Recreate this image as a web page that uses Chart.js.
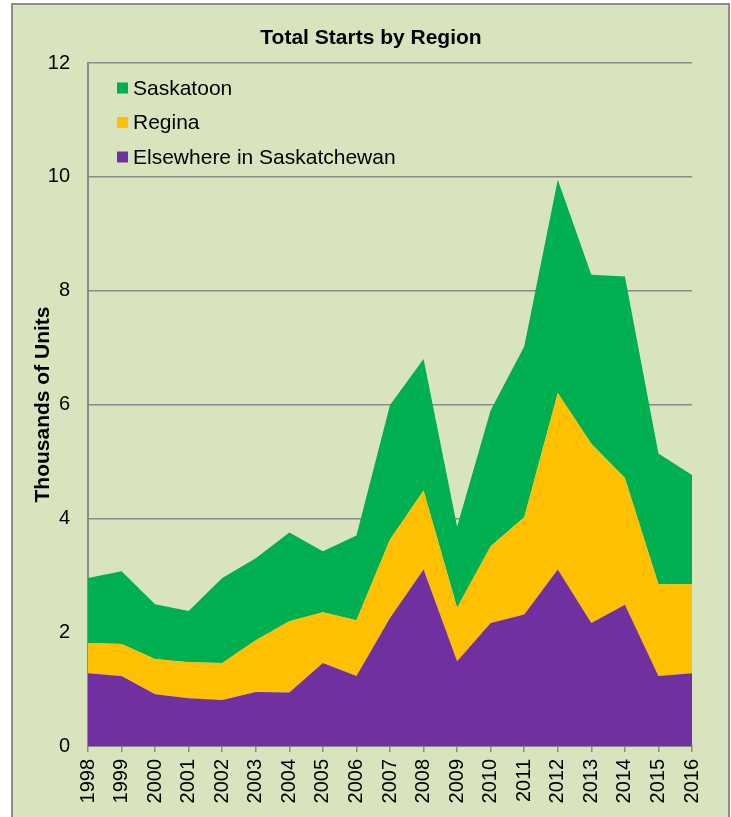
<!DOCTYPE html>
<html>
<head>
<meta charset="utf-8">
<script src="https://cdn.jsdelivr.net/npm/chart.js@4.4.1/dist/chart.umd.min.js"></script>
<style>
  body { margin: 0; background: #ffffff; overflow: hidden; }
  #box { position: absolute; left: 11px; top: 3px; width: 715px; height: 900px;
         border: 2px solid #8c8c8c; background: #d8e4bd; }
  #mycanvas { position: absolute; left: 0; top: 0; }
</style>
</head>
<body>
<div id="box"></div>
<canvas id="mycanvas" width="731" height="817"></canvas>
<script>
// values in thousands of units
var years = ['1998','1999','2000','2001','2002','2003','2004','2005','2006','2007',
             '2008','2009','2010','2011','2012','2013','2014','2015','2016'];
var elsewhere = [1.28,1.23,0.91,0.84,0.81,0.95,0.94,1.46,1.23,2.25,3.10,1.49,2.16,2.31,3.10,2.16,2.48,1.23,1.28];
var regina    = [0.53,0.56,0.62,0.63,0.65,0.91,1.25,0.89,0.98,1.38,1.39,0.94,1.35,1.71,3.10,3.15,2.23,1.61,1.56];
var saskatoon = [1.14,1.28,0.96,0.90,1.49,1.44,1.56,1.07,1.49,2.36,2.31,1.42,2.39,3.00,3.75,2.97,3.54,2.30,1.92];
var yTicks = [0,2,4,6,8,10,12];

var FONT = "'Liberation Sans', Arial, sans-serif";
var GRID = '#8a8a8a';

// title and legend drawn by hand: title centred on the whole box, legend inside the plot
var decorations = {
	id: 'decorations',
	afterDraw: function(chart) {
		var ctx = chart.ctx;
		var area = chart.chartArea;
		var items = [
			{ text: 'Saskatoon', color: '#00b050' },
			{ text: 'Regina', color: '#ffc000' },
			{ text: 'Elsewhere in Saskatchewan', color: '#7030a0' }
		];
		ctx.save();
		ctx.fillStyle = '#000';
		ctx.textAlign = 'center';
		ctx.textBaseline = 'middle';
		ctx.font = 'bold 21px ' + FONT;
		ctx.fillText('Total Starts by Region', 371, 38);

		ctx.textAlign = 'left';
		ctx.font = '21px ' + FONT;
		for (var i = 0; i < items.length; i++) {
			var y = area.top + 25 + i * 34.5;
			ctx.fillStyle = items[i].color;
			ctx.fillRect(area.left + 29, y - 5.5, 11, 11);
			ctx.fillStyle = '#000';
			ctx.fillText(items[i].text, area.left + 45, y + 1);
		}
		ctx.restore();
	}
};

var ctx = document.getElementById('mycanvas');

var chart = new Chart(ctx, {
	type: 'line',
	data: {
		labels: years,
		datasets: [
			{
				label: 'Elsewhere in Saskatchewan',
				data: elsewhere,
				backgroundColor: '#7030a0',
				borderWidth: 0,
				fill: 'origin'
			},
			{
				label: 'Regina',
				data: regina,
				backgroundColor: '#ffc000',
				borderWidth: 0,
				fill: '-1'
			},
			{
				label: 'Saskatoon',
				data: saskatoon,
				backgroundColor: '#00b050',
				borderWidth: 0,
				fill: '-1'
			}
		]
	},
	options: {
		responsive: false,
		animation: false,
		devicePixelRatio: 1,
		elements: { point: { radius: 0, hoverRadius: 0 }, line: { tension: 0 } },
		layout: { padding: { left: 0, right: 39, top: 63, bottom: 0 } },
		plugins: {
			legend: { display: false },
			tooltip: { enabled: false },
			title: { display: false }
		},
		scales: {
			x: {
				grid: { drawOnChartArea: false, drawTicks: true, tickLength: 6, color: GRID, lineWidth: 1.5 },
				border: { display: true, color: GRID, width: 2 },
				ticks: {
					color: '#000',
					font: { family: FONT, size: 20 },
					minRotation: 90,
					maxRotation: 90,
					autoSkip: false,
					padding: 7
				},
				afterFit: function(scale) { scale.height = 71; }
			},
			y: {
				stacked: true,
				min: 0,
				max: 12,
				afterBuildTicks: function(scale) {
					scale.ticks = yTicks.map(function(v) { return { value: v }; });
				},
				grid: { drawTicks: false, color: GRID, lineWidth: 1.5 },
				border: { display: true, color: GRID, width: 2 },
				ticks: {
					color: '#000',
					font: { family: FONT, size: 20 },
					padding: 18
				},
				title: {
					display: true,
					text: 'Thousands of Units',
					color: '#000',
					font: { family: FONT, size: 21, weight: 'bold' },
					padding: { top: 31, bottom: 0 }
				},
				afterFit: function(scale) { scale.width = 88; }
			}
		}
	},
	plugins: [decorations]
});
</script>
</body>
</html>
